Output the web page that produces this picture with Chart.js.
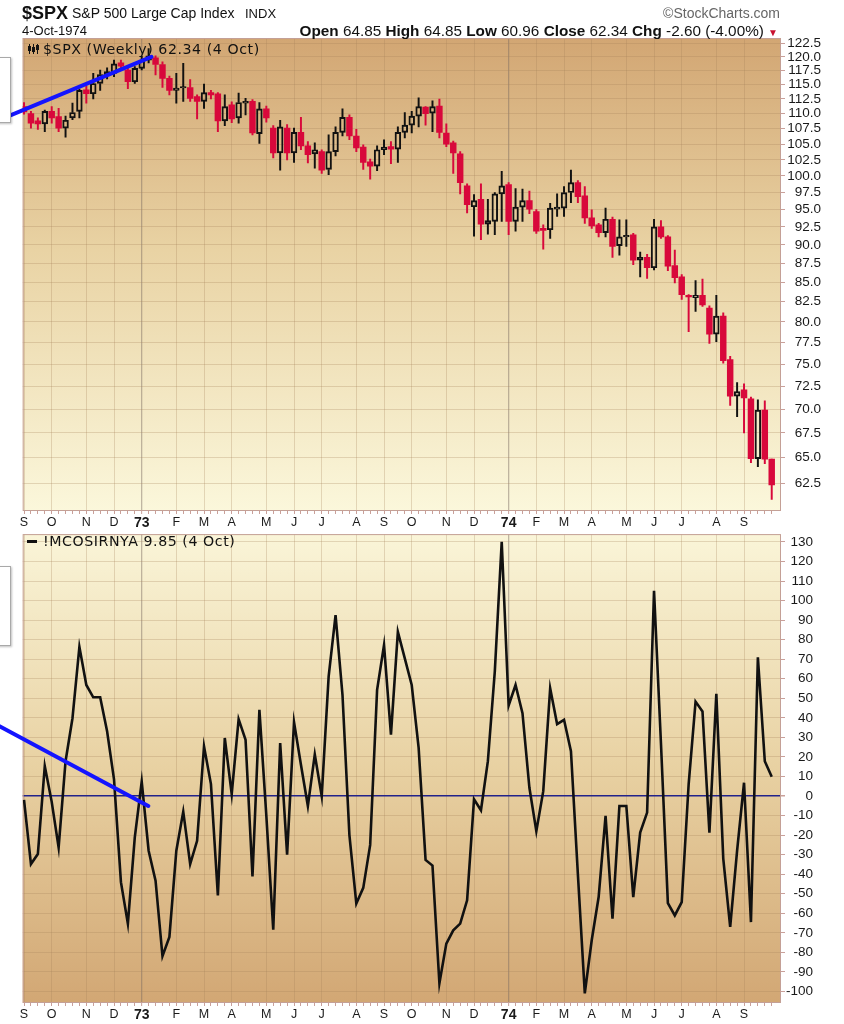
<!DOCTYPE html>
<html><head><meta charset="utf-8">
<script src="https://cdn.jsdelivr.net/npm/chart.js@4.4.1/dist/chart.umd.min.js"></script>
<style>
html,body{margin:0;padding:0;background:#fff;}
body{width:844px;height:1024px;position:relative;overflow:hidden;font-family:"Liberation Sans",Arial,sans-serif;}
canvas{position:absolute;left:0;}
#c1{top:0;}
#c2{top:525px;}
.t{position:absolute;white-space:nowrap;color:#111;line-height:1;}
.lg{position:absolute;white-space:nowrap;color:#111;font-family:"DejaVu Sans",Verdana,sans-serif;font-size:14.2px;letter-spacing:0.55px;line-height:1;}
.box{position:absolute;left:-3px;width:12px;background:#fff;border:1px solid #a9a9a9;box-shadow:1px 1px 2px rgba(0,0,0,0.25);}
</style></head><body>
<canvas id="c1" width="844" height="530"></canvas>
<canvas id="c2" width="844" height="499"></canvas>

<div class="t" style="left:22px;top:4px;font-size:18px;font-weight:bold;">$SPX</div>
<div class="t" style="left:72px;top:6px;font-size:14px;">S&amp;P 500 Large Cap Index</div>
<div class="t" style="left:245px;top:7px;font-size:13px;">INDX</div>
<div class="t" style="right:64px;top:6px;font-size:14px;color:#666;">&copy;StockCharts.com</div>
<div class="t" style="left:22px;top:24px;font-size:13px;">4-Oct-1974</div>
<div class="t" style="right:66px;top:23px;font-size:15.3px;"><b>Open</b> 64.85 <b>High</b> 64.85 <b>Low</b> 60.96 <b>Close</b> 62.34 <b>Chg</b> -2.60 (-4.00%) <span style="color:#c8102e;font-size:10px;">&#9660;</span></div>

<div style="position:absolute;left:28px;top:44px;width:12px;height:10px;">
  <div style="position:absolute;left:1px;top:0;width:1px;height:10px;background:#111"></div>
  <div style="position:absolute;left:0;top:2px;width:3px;height:5px;background:#111"></div>
  <div style="position:absolute;left:5px;top:0;width:1px;height:10px;background:#111"></div>
  <div style="position:absolute;left:4px;top:3px;width:3px;height:5px;background:#111"></div>
  <div style="position:absolute;left:9px;top:0;width:1px;height:10px;background:#111"></div>
  <div style="position:absolute;left:8px;top:1px;width:3px;height:5px;background:#111"></div>
</div>
<div class="lg" style="left:43px;top:42px;">$SPX (Weekly) 62.34 (4 Oct)</div>
<div style="position:absolute;left:27px;top:540px;width:10px;height:3px;background:#111;"></div>
<div class="lg" style="left:43px;top:534px;">!MCOSIRNYA 9.85 (4 Oct)</div>

<div class="box" style="top:57px;height:64px;"></div>
<div class="box" style="top:566px;height:78px;"></div>

<script>
// ---------- DATA (weekly, week of 4 Sep 1972 .. week of 30 Sep 1974) ----------
const openP = [111.2,110.0,108.8,108.3,110.4,109.5,107.6,109.3,110.4,114.1,113.4,115.2,116.7,117.0,118.9,117.6,115.5,117.9,119.4,119.8,
118.6,116.1,114.0,114.4,114.5,112.9,112.1,113.6,113.4,108.8,111.5,109.3,111.8,112.1,106.7,110.8,107.6,103.6,107.6,103.6,
106.9,104.7,103.45,103.8,101.0,103.8,106.9,109.4,106.3,104.5,102.2,101.5,104.1,104.6,104.2,106.9,108.1,109.6,111.1,110.1,
111.3,106.8,105.2,103.45,98.5,95.4,96.5,92.9,93.3,97.3,98.7,93.3,95.35,96.3,94.7,92.3,92.1,95.05,95.2,97.5,
99.0,97.0,93.8,92.8,91.7,93.6,89.9,91.1,91.4,87.9,88.3,86.9,92.5,91.1,87.2,85.7,83.3,83.0,83.3,81.7,
78.5,80.7,75.5,71.4,72.1,71.1,64.9,69.9,64.85];
const highP = [111.9,110.4,109.3,110.6,111.2,110.9,109.6,111.8,114.2,114.8,117.0,117.6,118.0,119.4,119.4,118.0,118.2,120.1,121.5,120.2,
119.1,116.5,117.0,118.8,115.9,113.2,115.1,114.0,113.6,113.2,112.0,113.5,112.6,112.4,111.9,111.3,108.0,108.9,108.2,107.6,
109.4,105.4,105.2,104.1,106.5,107.8,110.8,109.8,107.4,104.9,102.6,104.7,105.7,105.4,107.8,110.2,110.4,112.7,111.2,112.2,
112.5,108.3,105.5,103.8,98.8,97.2,98.8,96.5,97.5,100.7,99.0,98.1,98.0,97.7,95.0,92.8,95.9,97.3,98.4,100.9,
99.3,98.4,94.95,93.0,95.2,93.9,93.5,93.5,91.6,89.0,88.7,93.6,93.4,91.3,89.3,86.0,83.4,85.2,85.4,82.0,
83.3,81.1,75.9,72.9,72.75,71.3,71.0,70.9,64.85];
const lowP = [109.9,107.6,107.4,107.0,108.4,107.0,106.1,109.0,109.3,111.8,112.5,114.0,116.0,116.4,117.6,114.3,115.2,117.6,118.9,116.7,
114.5,113.2,111.8,112.1,112.1,109.1,110.9,112.5,107.0,108.0,108.5,108.4,109.8,106.5,105.1,108.6,102.8,100.9,102.5,102.1,
104.1,102.0,101.2,100.4,100.2,103.1,106.3,105.7,103.8,101.0,99.5,100.8,103.3,101.9,102.1,106.0,106.8,107.8,108.1,107.0,
106.0,104.6,100.4,97.3,94.5,91.2,90.7,91.5,91.4,93.3,91.4,91.9,93.3,94.4,91.6,89.4,90.9,94.0,94.0,96.0,
96.0,93.0,92.3,91.1,91.1,88.3,88.6,89.8,87.3,85.7,85.5,86.6,90.9,86.5,84.9,82.8,78.8,81.3,81.9,77.4,
77.6,75.1,70.4,69.2,67.5,64.5,64.1,64.4,60.96];
const closeP = [110.3,108.4,108.3,110.4,109.3,107.6,108.9,110.2,114.0,113.4,115.2,116.8,117.3,118.7,118.3,115.5,117.9,119.4,120.2,118.6,
116.1,114.0,114.4,114.6,112.6,112.1,113.6,113.2,108.8,111.2,109.1,111.9,112.1,106.8,110.8,109.3,103.6,107.8,103.6,106.9,
104.7,103.3,104.1,100.9,103.8,106.9,109.4,106.3,104.4,102.1,101.5,104.1,104.5,104.2,106.9,108.1,109.6,111.2,110.0,111.2,
106.9,105.0,103.6,99.0,95.7,96.3,92.9,93.4,97.3,98.5,93.3,95.35,96.3,95.05,91.9,92.0,95.2,95.35,97.5,99.0,
96.9,93.8,92.65,91.7,93.6,89.8,91.1,91.3,87.9,88.3,86.9,92.5,91.1,87.1,85.6,83.4,83.1,83.3,82.1,78.5,
80.7,75.4,71.4,71.9,71.2,64.9,69.9,64.85,62.34];
const oscValues = [-2,-34.8,-29.7,15.3,-3,-26.3,17.8,39.8,76.3,56.8,50.5,50.5,33.1,8.5,-44.1,-65.3,-21.2,7.3,-28,-43.3,
-81.9,-72.1,-28,-8,-34.8,-22.9,25.4,6.1,-50.9,29.7,1,39.3,28.8,-41.2,44.1,-10,-68.4,27.1,-30,37.8,
16,-5.1,21.2,0,61.1,92.5,51.8,-20,-55,-47,-25,54.3,77.2,31.4,84,70.4,56.8,24.6,-32.7,-35.6,
-95.8,-75.5,-68.7,-65.3,-53.4,-1.7,-7.3,17.8,63.6,130.1,46.3,56.8,42.4,4.2,-18,2.5,55.1,36.8,39,22.9,
-40,-101,-73.8,-51.7,-10.2,-62.8,-5.1,-5.1,-51.7,-18.7,-8.5,105,27,-54.8,-61.1,-54.3,6,48.3,43.3,-18.7,
52.3,-32,-67,-28,6.8,-64.5,71,17.8,9.85];
const priceTicks = [62.5,65,67.5,70,72.5,75,77.5,80,82.5,85,87.5,90,92.5,95,97.5,100,102.5,105,107.5,110,112.5,115,117.5,120,122.5];
const oscTicks = [-100,-90,-80,-70,-60,-50,-40,-30,-20,-10,0,10,20,30,40,50,60,70,80,90,100,110,120,130];
const monthTickWeeks = [0,4,9,13,17,22,26,30,35,39,43,48,52,56,61,65,70,74,78,82,87,91,95,100,104];
const monthTickLabels = ['S','O','N','D','73','F','M','A','M','J','J','A','S','O','N','D','74','F','M','A','M','J','J','A','S'];
// hand-drawn trend lines (week index, value)
const priceTrendX = [-3.47, 18.4];
const priceTrendY = [109.0, 120.0];
const oscTrendX = [-3.47, 17.95];
const oscTrendY = [35.6, -5.1];

// ---------- helpers ----------
const weekIdx = closeP.map((_, i) => i);
const RED = '#d8083b', BLK = '#111111';
const GRID = 'rgba(165,128,88,0.28)';
const YEARGRID = 'rgba(120,105,95,0.45)';
const TICKC = '#c9a09a';
function monthLabel(v){ const k = monthTickWeeks.indexOf(v); return k >= 0 ? monthTickLabels[k] : ''; }
function isYear(v){ const l = monthLabel(v); return l === '73' || l === '74'; }

const panelPlugin = {
  id: 'panel',
  beforeDraw(chart, args, opts) {
    const {ctx, chartArea: a} = chart;
    const g = ctx.createLinearGradient(0, a.top, 0, a.bottom);
    opts.stops.forEach(s => g.addColorStop(s[0], s[1]));
    ctx.save();
    ctx.fillStyle = g;
    ctx.fillRect(a.left, a.top, a.right - a.left, a.bottom - a.top);
    ctx.restore();
  },
  beforeDatasetsDraw(chart) {
    const {ctx, chartArea: a} = chart;
    ctx.save();
    ctx.strokeStyle = '#c4a096';
    ctx.lineWidth = 1;
    ctx.strokeRect(a.left + 0.5, a.top + 0.5, a.right - a.left - 1, a.bottom - a.top - 1);
    ctx.restore();
  }
};

function xScale() {
  return {
    type: 'linear', min: -0.19, max: 109.34, offset: false, bounds: 'data',
    afterBuildTicks: s => { s.ticks = weekIdx.map(i => ({value: i})); },
    afterFit: s => { s.height = 18; },
    border: {display: false},
    grid: {
      offset: false, drawTicks: true, tickLength: 3, tickColor: TICKC, tickWidth: 1,
      color: c => { const v = c.tick && c.tick.value; if (monthLabel(v) === '') return 'rgba(0,0,0,0)'; return isYear(v) ? YEARGRID : GRID; },
      lineWidth: c => (c.tick && isYear(c.tick.value)) ? 1.3 : 1
    },
    ticks: {
      autoSkip: false, maxRotation: 0, minRotation: 0, padding: 1, color: '#1a1a1a',
      callback: v => monthLabel(v),
      font: c => ({family: '"Liberation Sans", Arial, sans-serif', size: (c.tick && isYear(c.tick.value)) ? 14 : 12.5, weight: (c.tick && isYear(c.tick.value)) ? 'bold' : 'normal'})
    }
  };
}

// ---------- top chart: candles ----------
const isUp = weekIdx.map(i => closeP[i] >= openP[i]);
const candleColor = weekIdx.map(i => isUp[i] ? BLK : RED);
const bodyData = weekIdx.map(i => ({x: i, y: [Math.min(openP[i], closeP[i]), Math.max(openP[i], closeP[i])]}));
const upperWickData = weekIdx.map(i => ({x: i, y: [Math.max(openP[i], closeP[i]), highP[i]]}));
const lowerWickData = weekIdx.map(i => ({x: i, y: [lowP[i], Math.min(openP[i], closeP[i])]}));

new Chart(document.getElementById('c1'), {
  type: 'bar',
  data: {
    datasets: [
      {type: 'line', data: priceTrendX.map((x, k) => ({x: x, y: priceTrendY[k]})), borderColor: '#1414ff', borderWidth: 4,
       pointRadius: 0, clip: false, order: 0, borderCapStyle: 'round'},
      {data: bodyData, grouped: false, barThickness: 5.8, minBarLength: 1.5, order: 1, borderSkipped: false,
       backgroundColor: weekIdx.map(i => isUp[i] ? 'rgba(0,0,0,0)' : RED),
       borderColor: candleColor, borderWidth: weekIdx.map(i => isUp[i] ? 1.3 : 0)},
      {data: upperWickData, grouped: false, barThickness: 1.3, order: 2, borderWidth: 0, backgroundColor: candleColor},
      {data: lowerWickData, grouped: false, barThickness: 1.3, order: 2, borderWidth: 0, backgroundColor: candleColor}
    ]
  },
  options: {
    responsive: false, animation: false, events: [],
    layout: {padding: {left: 22.7, top: 38, right: 23, bottom: 1}},
    plugins: {legend: {display: false}, tooltip: {enabled: false},
      panel: {stops: [[0, '#d2a673'], [0.45, '#e9d3a4'], [1, '#fbf7db']]}},
    scales: {
      x: xScale(),
      y: {
        type: 'logarithmic', position: 'right', min: 59.9, max: 123.5, bounds: 'data',
        afterBuildTicks: s => { s.ticks = priceTicks.map(v => ({value: v})); },
        afterFit: s => { s.width = 40; },
        border: {display: false},
        grid: {color: GRID, tickLength: 4, tickColor: TICKC},
        ticks: {crossAlign: 'far', padding: 2, color: '#1a1a1a', autoSkip: false,
          callback: v => Number(v).toFixed(1),
          font: {family: '"Liberation Sans", Arial, sans-serif', size: 13.5}}
      }
    }
  },
  plugins: [panelPlugin]
});

// ---------- bottom chart: oscillator ----------
new Chart(document.getElementById('c2'), {
  type: 'line',
  data: {
    datasets: [
      {data: oscTrendX.map((x, k) => ({x: x, y: oscTrendY[k]})), borderColor: '#1414ff', borderWidth: 4,
       pointRadius: 0, clip: false, order: 0, borderCapStyle: 'round'},
      {data: weekIdx.map(i => ({x: i, y: oscValues[i]})), borderColor: '#111', borderWidth: 2.6,
       pointRadius: 0, tension: 0, order: 1, borderJoinStyle: 'miter'}
    ]
  },
  options: {
    responsive: false, animation: false, events: [],
    layout: {padding: {left: 22.7, top: 6.5, right: 31, bottom: 3}},
    plugins: {legend: {display: false}, tooltip: {enabled: false},
      panel: {stops: [[0, '#faf5d8'], [0.5, '#e8d1a2'], [1, '#d2a774']]}},
    scales: {
      x: xScale(),
      y: {
        type: 'linear', position: 'right', min: -105.9, max: 134, bounds: 'data',
        afterBuildTicks: s => { s.ticks = oscTicks.map(v => ({value: v})); },
        afterFit: s => { s.width = 32; },
        border: {display: false},
        grid: {color: c => (c.tick && c.tick.value === 0) ? '#22228a' : GRID,
               lineWidth: c => (c.tick && c.tick.value === 0) ? 1.5 : 1,
               tickLength: 4, tickColor: TICKC},
        ticks: {crossAlign: 'far', padding: 1, color: '#1a1a1a', autoSkip: false,
          callback: v => String(v),
          font: {family: '"Liberation Sans", Arial, sans-serif', size: 13.5}}
      }
    }
  },
  plugins: [panelPlugin]
});
</script>
</body></html>
